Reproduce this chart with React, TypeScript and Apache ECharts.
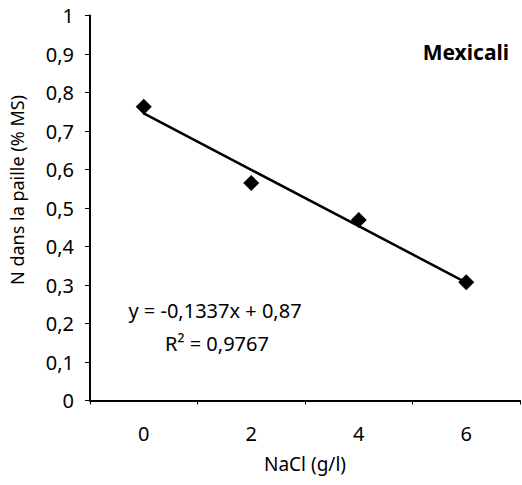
import React, { useEffect, useRef } from "react";
import * as echarts from "echarts";

const categories = ["0", "2", "4", "6"];
const nValues = [0.763, 0.565, 0.469, 0.307];
const yTicks = [0, 0.1, 0.2, 0.3, 0.4, 0.5, 0.6, 0.7, 0.8, 0.9, 1];
const equationText = "y = -0,1337x + 0,87";
const r2Text = "R² = 0,9767";
const titleText = "Mexicali";
const xName = "NaCl (g/l)";
const yName = "N dans la paille (% MS)";

const FONT = "'Noto Sans', 'Open Sans', sans-serif";

function linearFit(ys: number[]) {
  const n = ys.length;
  const xs = ys.map((_, i) => i + 1);
  const mx = xs.reduce((a, b) => a + b, 0) / n;
  const my = ys.reduce((a, b) => a + b, 0) / n;
  let sxy = 0;
  let sxx = 0;
  for (let i = 0; i < n; i++) {
    sxy += (xs[i] - mx) * (ys[i] - my);
    sxx += (xs[i] - mx) * (xs[i] - mx);
  }
  const slope = sxy / sxx;
  const intercept = my - slope * mx;
  return xs.map((x) => intercept + slope * x);
}

export default function App() {
  const ref = useRef<HTMLDivElement>(null);
  useEffect(() => {
    document.body.style.margin = "0";
    if (!ref.current) return;
    const chart = echarts.init(ref.current, undefined, { renderer: "svg" });
    const trend = linearFit(nValues);
    chart.setOption({
      animation: false,
      backgroundColor: "#ffffff",
      textStyle: { fontFamily: FONT },
      grid: { left: 90, right: 2, top: 15.5, bottom: 84.5 },
      xAxis: {
        type: "category",
        data: categories,
        boundaryGap: true,
        name: xName,
        nameLocation: "middle",
        nameGap: 54,
        nameTextStyle: { fontSize: 19, color: "#000", fontFamily: FONT },
        axisLine: { lineStyle: { color: "#000", width: 2 } },
        axisTick: { show: true, length: 4, lineStyle: { color: "#000", width: 1 } },
        axisLabel: { color: "#000", fontSize: 20, margin: 23, fontFamily: FONT },
        splitLine: { show: false },
      },
      yAxis: {
        type: "value",
        min: 0,
        max: 1,
        interval: 0.1,
        axisLine: { show: true, lineStyle: { color: "#000", width: 2 } },
        axisTick: { show: true, length: 5, lineStyle: { color: "#000", width: 1 } },
        axisLabel: {
          color: "#000",
          fontSize: 20,
          margin: 16,
          fontFamily: FONT,
          formatter: (v: number) => {
            const r = Math.round(v * 10) / 10;
            const hit = yTicks.find((t) => Math.abs(t - r) < 1e-9);
            return String(hit ?? r).replace(".", ",");
          },
        },
        splitLine: { show: false },
      },
      series: [
        {
          type: "line",
          data: trend,
          showSymbol: false,
          symbol: "none",
          lineStyle: { color: "#000", width: 2.5 },
          z: 2,
        },
        {
          type: "scatter",
          data: nValues,
          symbol: "diamond",
          symbolSize: 16,
          itemStyle: { color: "#000", opacity: 1 },
          z: 3,
        },
      ],
      graphic: [
        {
          type: "text",
          x: 509,
          y: 52,
          style: {
            text: titleText,
            font: `bold 21px ${FONT}`,
            fill: "#000",
            align: "right",
            verticalAlign: "middle",
          },
        },
        {
          type: "text",
          x: 215,
          y: 310,
          style: {
            text: equationText,
            font: `20px ${FONT}`,
            fill: "#000",
            align: "center",
            verticalAlign: "middle",
          },
        },
        {
          type: "text",
          x: 217,
          y: 343,
          style: {
            text: r2Text,
            font: `20px ${FONT}`,
            fill: "#000",
            align: "center",
            verticalAlign: "middle",
          },
        },
        {
          type: "text",
          x: 17,
          y: 190,
          rotation: Math.PI / 2,
          style: {
            text: yName,
            font: `18px ${FONT}`,
            fill: "#000",
            align: "center",
            verticalAlign: "middle",
          },
        },
      ],
    });
    return () => chart.dispose();
  }, []);
  return <div ref={ref} style={{ width: 522, height: 485 }} />;
}
